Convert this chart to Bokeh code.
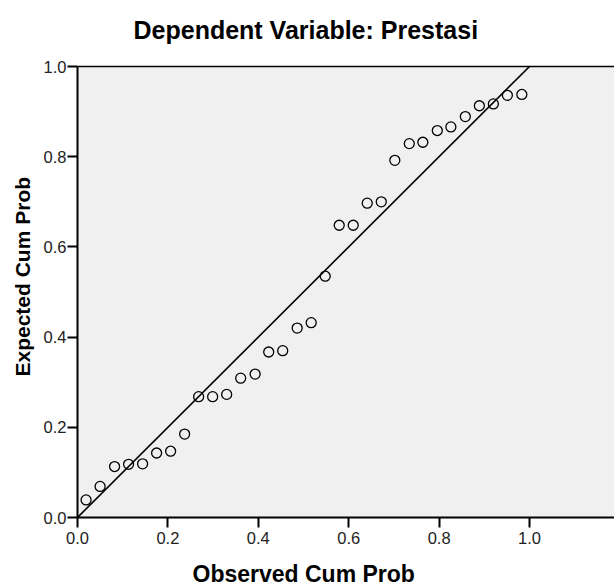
from bokeh.plotting import figure
from bokeh.models import Range1d, FixedTicker, NumeralTickFormatter, LinearAxis, Title
from bokeh.embed import file_html
from bokeh.resources import INLINE

title_text = "Dependent Variable: Prestasi"
x_label = "Observed Cum Prob"
y_label = "Expected Cum Prob"
tick_values = [0.0, 0.2, 0.4, 0.6, 0.8, 1.0]

observed = [0.019, 0.050, 0.082, 0.113, 0.144, 0.175, 0.206, 0.237, 0.268, 0.299,
            0.330, 0.361, 0.393, 0.423, 0.454, 0.486, 0.517, 0.548, 0.579, 0.610,
            0.641, 0.672, 0.702, 0.734, 0.764, 0.796, 0.826, 0.858, 0.889, 0.920,
            0.951, 0.983]
expected = [0.039, 0.069, 0.113, 0.118, 0.119, 0.143, 0.147, 0.185, 0.268, 0.268,
            0.273, 0.309, 0.318, 0.367, 0.370, 0.420, 0.432, 0.535, 0.648, 0.648,
            0.697, 0.700, 0.792, 0.829, 0.832, 0.858, 0.866, 0.889, 0.913, 0.917,
            0.936, 0.938]
diag_x = [0.0, 1.0]
diag_y = [0.0, 1.0]

FONT = "Liberation Sans"

p = figure(width=614, height=588, output_backend="svg", toolbar_location=None,
           x_range=Range1d(0, 1.188), y_range=Range1d(0, 1.0),
           min_border_left=77, min_border_right=0, min_border_top=65, min_border_bottom=71)
p.background_fill_color = "#F0F0F0"
p.border_fill_color = "white"
p.outline_line_color = None
p.grid.visible = False

for ax in (p.xaxis[0], p.yaxis[0]):
    ax.ticker = FixedTicker(ticks=tick_values)
    ax.formatter = NumeralTickFormatter(format="0.0")
    ax.axis_line_width = 2
    ax.axis_line_color = "black"
    ax.major_tick_line_width = 2
    ax.major_tick_line_color = "black"
    ax.major_tick_out = 10
    ax.major_tick_in = 0
    ax.minor_tick_line_color = None
    ax.major_label_text_font = FONT
    ax.major_label_text_font_size = "16.5px"
    ax.major_label_text_color = "#222222"
p.xaxis.major_label_standoff = 4
p.yaxis.major_label_standoff = 1

top = LinearAxis(ticker=FixedTicker(ticks=[]), major_tick_line_color=None,
                 minor_tick_line_color=None, major_label_text_font_size="0px",
                 axis_line_color="black", axis_line_width=1.5)
p.add_layout(top, "above")

p.line(diag_x, diag_y, line_color="black", line_width=1.6)
p.scatter(observed, expected, marker="circle", size=10, fill_color=None,
          line_color="black", line_width=1.3)

# spacers + labels (panels stack outward from the frame in order added)
p.add_layout(Title(text=" ", text_font_size="1px", standoff=9), "below")
p.add_layout(Title(text=x_label, align="left", offset=115, text_font=FONT,
                   text_font_size="23px", text_font_style="bold", text_color="black",
                   standoff=0), "below")
p.add_layout(Title(text=y_label, align="left", offset=141, text_font=FONT,
                   text_font_size="21px", text_font_style="bold", text_color="black",
                   standoff=14), "left")
p.add_layout(Title(text=" ", text_font_size="1px", standoff=6), "above")
p.add_layout(Title(text=title_text, align="left", offset=56, text_font=FONT,
                   text_font_size="25px", text_font_style="bold", text_color="black",
                   standoff=27), "above")

open("out.html", "w").write(file_html(p, INLINE))
